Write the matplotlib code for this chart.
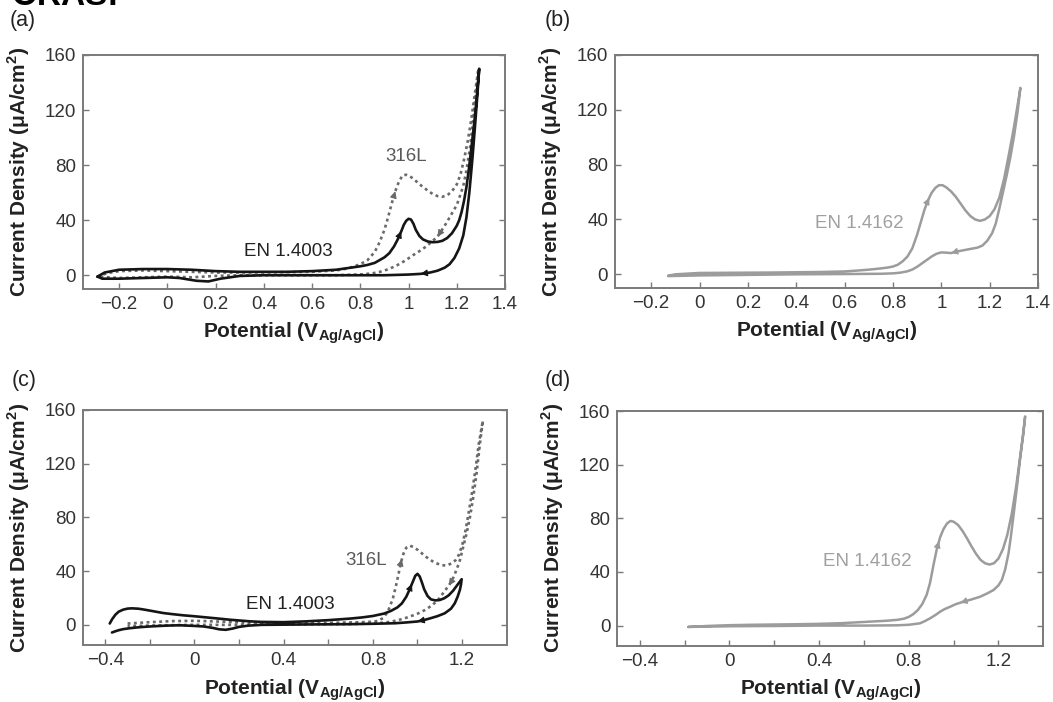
"""
Cyclic voltammograms of ferritic / lean duplex stainless steels
compared with 316L, four panels (a)-(d).
"""

import numpy as np
import matplotlib
matplotlib.use("Agg")
import matplotlib.pyplot as plt

plt.rcParams['font.family'] = ['Liberation Sans', 'DejaVu Sans']
plt.rcParams['mathtext.fontset'] = 'custom'
plt.rcParams['mathtext.rm'] = 'Liberation Sans'
plt.rcParams['mathtext.bf'] = 'Liberation Sans:bold'
plt.rcParams['axes.unicode_minus'] = True

# ---- panel (a) : EN 1.4003 vs 316L --------------------------------------
a_en_fwd_v = [-0.29, -0.26, -0.2, -0.1, 0.0, 0.1, 0.2, 0.3, 0.4, 0.5, 0.6, 0.7,
              0.8, 0.83, 0.86, 0.88, 0.9, 0.92, 0.94, 0.955, 0.97, 0.98, 0.99,
              1.0, 1.01, 1.02, 1.03, 1.045, 1.06, 1.08, 1.1, 1.12, 1.14, 1.16,
              1.18, 1.2, 1.21, 1.22, 1.23, 1.24, 1.25, 1.26, 1.27, 1.28, 1.293]
a_en_fwd_i = [-1, 2, 4, 4.5, 4.5, 4, 3, 2.5, 2.5, 2.5, 3, 4,
              6.5, 7.5, 9, 11, 13, 16, 21, 26, 32, 36.5, 39.5,
              41, 40.5, 37.5, 33, 28.5, 26, 24.5, 24, 24.2, 25, 27,
              30.5, 36, 40, 46, 54, 64, 77, 92, 107, 124, 150]
a_en_rev_v = [1.293, 1.285, 1.275, 1.265, 1.252, 1.24, 1.227, 1.21, 1.19, 1.17,
              1.15, 1.12, 1.09, 1.05, 1.0, 0.9, 0.8, 0.6, 0.4, 0.3, 0.22, 0.17,
              0.12, 0.05, 0.0, -0.1, -0.2, -0.27, -0.29]
a_en_rev_i = [150, 130, 107, 85, 60, 42, 29, 19.5, 12.5, 8,
              5.5, 3.3, 2, 1, 0.5, 0, 0, 0, 0, -0.5, -2.5, -4.5,
              -4, -2, -1.5, -2, -2.5, -2.5, -1]

a_316_fwd_v = [-0.29, -0.25, -0.2, -0.1, 0.0, 0.1, 0.2, 0.4, 0.6, 0.7, 0.75, 0.8,
               0.83, 0.86, 0.88, 0.9, 0.915, 0.93, 0.945, 0.96, 0.975, 0.99,
               1.005, 1.02, 1.04, 1.06, 1.08, 1.1, 1.12, 1.14, 1.16, 1.18, 1.2,
               1.215, 1.23, 1.245, 1.26, 1.275, 1.29]
a_316_fwd_i = [-1, 1.5, 3, 3.5, 3, 2.5, 2, 2, 2.5, 3.5, 5, 8,
               11, 17, 24, 33, 42, 52, 61, 68, 72.5, 73,
               72, 70, 67, 64, 61.5, 59, 57.5, 57, 58, 61, 66,
               73, 84, 97, 113, 132, 150]
a_316_rev_v = [1.29, 1.28, 1.27, 1.255, 1.24, 1.227, 1.21, 1.2, 1.18, 1.157,
               1.135, 1.12, 1.1, 1.074, 1.045, 1.018, 0.985, 0.95, 0.915, 0.88,
               0.85, 0.81, 0.7, 0.5, 0.3, 0.2, 0.1, 0.0, -0.1, -0.2, -0.29]
a_316_rev_i = [150, 133, 116, 93, 76, 65, 56, 51, 45, 38,
               32, 28, 25, 21, 17.5, 14.5, 10.5, 7, 4.3, 2.4,
               1.4, 0.7, 0, 0, 0, -0.5, -1.5, -1, -1.5, -2, -1]

# ---- panel (b) : EN 1.4162 ----------------------------------------------
b_fwd_v = [-0.13, -0.1, -0.05, 0.0, 0.1, 0.2, 0.3, 0.4, 0.5, 0.6, 0.65, 0.7,
           0.75, 0.78, 0.8, 0.82, 0.84, 0.86, 0.88, 0.9, 0.915, 0.93, 0.945,
           0.96, 0.975, 0.99, 1.005, 1.02, 1.04, 1.06, 1.08, 1.1, 1.12, 1.14,
           1.16, 1.18, 1.2, 1.22, 1.24, 1.26, 1.28, 1.3, 1.315, 1.327]
b_fwd_i = [-1, 0, 0.5, 1, 1.1, 1.2, 1.3, 1.5, 1.7, 2.1, 2.7, 3.4,
           4.3, 5, 5.7, 7, 9.5, 13, 19, 29, 38, 47, 54,
           59.5, 63, 65, 65, 63.5, 60.5, 56.5, 51.5, 46.5, 42.5, 40,
           39, 40, 42.5, 47.5, 56, 70, 88, 107, 123, 136]
b_rev_v = [1.327, 1.315, 1.3, 1.285, 1.27, 1.255, 1.24, 1.225, 1.21, 1.19,
           1.17, 1.15, 1.12, 1.09, 1.06, 1.04, 1.02, 1.0, 0.98, 0.96, 0.94,
           0.92, 0.9, 0.88, 0.86, 0.83, 0.8, 0.75, 0.6, 0.4, 0.2, 0.0, -0.13]
b_rev_i = [136, 118, 100, 85, 72, 60, 48, 37, 30, 24.5,
           21, 19.5, 18.5, 17.5, 16.5, 15.5, 15.8, 16, 15, 13, 10.5,
           8, 5.5, 3.5, 2.2, 1.2, 0.7, 0.4, 0.2, 0, -0.4, -0.8, -1.3]

# ---- panel (c) : EN 1.4003 vs 316L --------------------------------------
c_en_fwd_v = [-0.38, -0.37, -0.355, -0.34, -0.32, -0.3, -0.28, -0.25, -0.22,
              -0.18, -0.14, -0.1, -0.05, 0.0, 0.05, 0.1, 0.16, 0.25, 0.3, 0.4,
              0.5, 0.6, 0.7, 0.75, 0.8, 0.85, 0.88, 0.91, 0.93, 0.95, 0.965,
              0.98, 0.99, 1.0, 1.01, 1.02, 1.03, 1.045, 1.06, 1.08, 1.1, 1.12,
              1.14, 1.16, 1.18, 1.198]
c_en_fwd_i = [1, 4, 7.5, 9.8, 11.3, 12.1, 12.3, 12, 11.2,
              10, 8.8, 8, 7.1, 6.4, 5.6, 4.8, 3.8, 2.6, 2.2, 2,
              2.6, 3.5, 4.7, 5.5, 6.6, 8.4, 10.3, 13, 16, 21, 26.5,
              32.5, 36.5, 38, 36, 31.5, 26.5, 21.5, 19, 18.2, 18.5, 19.8,
              22, 25.5, 30, 34]
c_en_rev_v = [1.198, 1.195, 1.19, 1.18, 1.167, 1.15, 1.122, 1.09, 1.06, 1.03,
              1.0, 0.95, 0.9, 0.8, 0.7, 0.5, 0.3, 0.24, 0.2, 0.17, 0.14, 0.11,
              0.08, 0.04, 0.0, -0.067, -0.13, -0.2, -0.25, -0.29, -0.32, -0.34,
              -0.355, -0.37]
c_en_rev_i = [34, 30, 26, 21, 16, 12, 8.6, 6.5, 5, 3.6,
              2.5, 1.8, 1.2, 0.8, 0.5, 0.3, 0, -0.6, -1.5, -2.8, -3.7, -3.3,
              -2.2, -1.2, -0.8, -0.3, -0.6, -1.2, -1.8, -2.5, -3.2, -4,
              -4.8, -5.7]

c_316_fwd_v = [-0.3, -0.2, -0.1, 0.0, 0.1, 0.2, 0.4, 0.6, 0.75, 0.8, 0.824,
               0.845, 0.862, 0.875, 0.89, 0.902, 0.914, 0.925, 0.937, 0.95,
               0.966, 0.98, 1.003, 1.025, 1.048, 1.075, 1.107, 1.13, 1.152,
               1.17, 1.185, 1.2, 1.215, 1.23, 1.245, 1.26, 1.275, 1.293]
c_316_fwd_i = [1, 2, 2.8, 3, 2.5, 2, 1.5, 1.5, 2, 2.3, 3,
               5, 8.6, 13, 20, 28, 37, 46, 53, 57.5,
               59, 58, 55.6, 52.5, 49.4, 46.5, 44.4, 44.2, 45.7,
               48, 52, 59, 70, 84, 99, 116, 135, 152]
c_316_rev_v = [1.293, 1.28, 1.265, 1.25, 1.235, 1.22, 1.205, 1.19, 1.175, 1.16,
               1.145, 1.13, 1.11, 1.092, 1.065, 1.033, 1.0, 0.958, 0.92, 0.884,
               0.85, 0.8, 0.7, 0.5, 0.3, 0.2, 0.0, -0.2, -0.3]
c_316_rev_i = [152, 135, 113, 95, 80, 68, 58, 48, 41, 35,
               30.5, 27, 22.5, 18.5, 14.5, 11, 8.3, 5.7, 3.8, 2.5,
               1.6, 1, 0.6, 0.4, 0.2, 0, 0, -0.5, -1]

# ---- panel (d) : EN 1.4162 ----------------------------------------------
d_fwd_v = [-0.183, -0.1, 0.0, 0.1, 0.2, 0.3, 0.4, 0.5, 0.6, 0.7, 0.75, 0.78,
           0.8, 0.82, 0.84, 0.86, 0.88, 0.895, 0.91, 0.925, 0.94, 0.955, 0.97,
           0.985, 1.0, 1.02, 1.04, 1.06, 1.08, 1.1, 1.12, 1.14, 1.16, 1.18,
           1.2, 1.22, 1.24, 1.26, 1.28, 1.3, 1.31, 1.319]
d_fwd_i = [-1, -0.3, 0.3, 0.6, 0.8, 1, 1.3, 1.8, 2.7, 3.6, 4.3, 5.2,
           6.5, 8.5, 11.5, 16, 23, 32, 45, 57, 66, 72, 76,
           78, 77.5, 75, 70.5, 65, 59, 53.5, 49, 46.5, 45.5, 46.5,
           50, 57, 68, 84, 105, 130, 143, 156]
d_rev_v = [1.319, 1.31, 1.297, 1.282, 1.267, 1.255, 1.245, 1.23, 1.215, 1.2,
           1.178, 1.15, 1.118, 1.08, 1.044, 1.01, 0.984, 0.96, 0.94, 0.92,
           0.895, 0.87, 0.85, 0.8, 0.746, 0.6, 0.4, 0.2, 0.0, -0.183]
d_rev_i = [156, 142, 125, 103, 82, 66, 54, 42, 34, 30,
           26.5, 24, 21.5, 19.5, 17.8, 16, 14, 12.3, 10.4, 8,
           5.4, 3.2, 1.7, 0.6, 0.2, 0, 0, -0.3, -0.5, -1]

BLACK = '#151515'
DOT_GREY = '#6a6a6a'
LIGHT_GREY = '#9c9c9c'


def draw_cv(ax, fwd_v, fwd_i, rev_v, rev_i, color, ls, lw, arrows):
    """Plot one CV loop (forward then reverse) with direction arrowheads."""
    v = list(fwd_v) + list(rev_v)[1:]
    i = list(fwd_i) + list(rev_i)[1:]
    ax.plot(v, i, color=color, linestyle=ls, lw=lw, solid_capstyle='round',
            solid_joinstyle='round')
    fwd_x, rev_x = arrows
    # arrowhead on forward branch (scan goes to higher potential)
    fv, fi = np.array(fwd_v), np.array(fwd_i)
    y0 = np.interp(fwd_x - 0.006, fv, fi)
    y1 = np.interp(fwd_x, fv, fi)
    ax.annotate('', xy=(fwd_x, y1), xytext=(fwd_x - 0.006, y0),
                arrowprops=dict(arrowstyle='-|>', color=color, lw=0.8,
                                mutation_scale=10, shrinkA=0, shrinkB=0))
    # arrowhead on reverse branch (scan back to lower potential)
    rv, ri = np.array(rev_v)[::-1], np.array(rev_i)[::-1]
    y0 = np.interp(rev_x + 0.006, rv, ri)
    y1 = np.interp(rev_x, rv, ri)
    ax.annotate('', xy=(rev_x, y1), xytext=(rev_x + 0.006, y0),
                arrowprops=dict(arrowstyle='-|>', color=color, lw=0.8,
                                mutation_scale=10, shrinkA=0, shrinkB=0))


def style_axes(ax, xlim, ylim, xticks, xlabels):
    ax.set_xlim(*xlim)
    ax.set_ylim(*ylim)
    ax.set_xticks(xticks)
    ax.set_xticklabels(xlabels)
    ax.set_yticks([0, 40, 80, 120, 160])
    for s in ax.spines.values():
        s.set_color('#7a7a7a')
        s.set_linewidth(1.4)
    ax.tick_params(direction='in', length=4, width=1.0, color='#7a7a7a',
                   labelsize=13.5, labelcolor='#333333', right=True, pad=5)
    ax.set_ylabel('Current Density (μA/cm$^{\\mathbf{2}}$)', fontsize=15,
                  fontweight='bold', color='#222222')
    ax.set_xlabel('Potential (V$_{\\mathbf{Ag/AgCl}}$)', fontsize=15,
                  fontweight='bold', color='#222222')
    ax.yaxis.set_label_coords(-0.12, 0.5)
    ax.xaxis.set_label_coords(0.5, -0.135)


fig = plt.figure(figsize=(10.53, 7.02), dpi=100)

ax_a = fig.add_axes([0.0788, 0.5883, 0.4008, 0.3334])
ax_b = fig.add_axes([0.5840, 0.5897, 0.4018, 0.3320])
ax_c = fig.add_axes([0.0788, 0.0812, 0.4024, 0.3348])
ax_d = fig.add_axes([0.5862, 0.0802, 0.4046, 0.3343])

top_ticks = [-0.2, 0, 0.2, 0.4, 0.6, 0.8, 1.0, 1.2, 1.4]
top_labels = ['\u22120.2', '0', '0.2', '0.4', '0.6', '0.8', '1', '1.2', '1.4']
bot_ticks = [-0.4, -0.2, 0, 0.2, 0.4, 0.6, 0.8, 1.0, 1.2]
bot_labels = ['\u22120.4', '', '0', '', '0.4', '', '0.8', '', '1.2']

# (a)
draw_cv(ax_a, a_316_fwd_v, a_316_fwd_i, a_316_rev_v, a_316_rev_i,
        DOT_GREY, (0, (1.1, 1.3)), 1.9, (0.945, 1.12))
draw_cv(ax_a, a_en_fwd_v, a_en_fwd_i, a_en_rev_v, a_en_rev_i,
        BLACK, '-', 1.9, (0.97, 1.05))
ax_a.text(0.99, 86, '316L', fontsize=13.5, color='#5a5a5a', ha='center', va='center')
ax_a.text(0.50, 17, 'EN 1.4003', fontsize=13.5, color='#222222', ha='center', va='center')
style_axes(ax_a, (-0.35, 1.4), (-10, 160), top_ticks, top_labels)

# (b)
draw_cv(ax_b, b_fwd_v, b_fwd_i, b_rev_v, b_rev_i,
        LIGHT_GREY, '-', 1.8, (0.95, 1.04))
ax_b.text(0.66, 37, 'EN 1.4162', fontsize=13.5, color='#a0a0a0', ha='center', va='center')
style_axes(ax_b, (-0.35, 1.4), (-10, 160), top_ticks, top_labels)

# (c)
draw_cv(ax_c, c_316_fwd_v, c_316_fwd_i, c_316_rev_v, c_316_rev_i,
        DOT_GREY, (0, (1.1, 1.3)), 1.9, (0.93, 1.14))
draw_cv(ax_c, c_en_fwd_v, c_en_fwd_i, c_en_rev_v, c_en_rev_i,
        BLACK, '-', 1.9, (0.975, 1.0))
ax_c.text(0.77, 48, '316L', fontsize=13.5, color='#5a5a5a', ha='center', va='center')
ax_c.text(0.43, 15, 'EN 1.4003', fontsize=13.5, color='#222222', ha='center', va='center')
style_axes(ax_c, (-0.5, 1.4), (-15, 160), bot_ticks, bot_labels)

# (d)
draw_cv(ax_d, d_fwd_v, d_fwd_i, d_rev_v, d_rev_i,
        LIGHT_GREY, '-', 1.8, (0.935, 1.03))
ax_d.text(0.613, 47.5, 'EN 1.4162', fontsize=13.5, color='#a0a0a0', ha='center', va='center')
style_axes(ax_d, (-0.5, 1.4), (-15, 160), bot_ticks, bot_labels)

# panel letters
for lbl, x, y in [('(a)', 10, 10), ('(b)', 545, 10), ('(c)', 12, 370), ('(d)', 545, 370)]:
    fig.text(x / 1053, 1 - y / 702, lbl, fontsize=15.5, color='#222222',
             ha='left', va='top')

# heading line running off the top edge
fig.text(12 / 1053, 1 - 5 / 702, 'ORAS:', fontsize=24, fontweight='bold',
         color='black', ha='left', va='baseline')

fig.savefig('out.png', dpi=100)
